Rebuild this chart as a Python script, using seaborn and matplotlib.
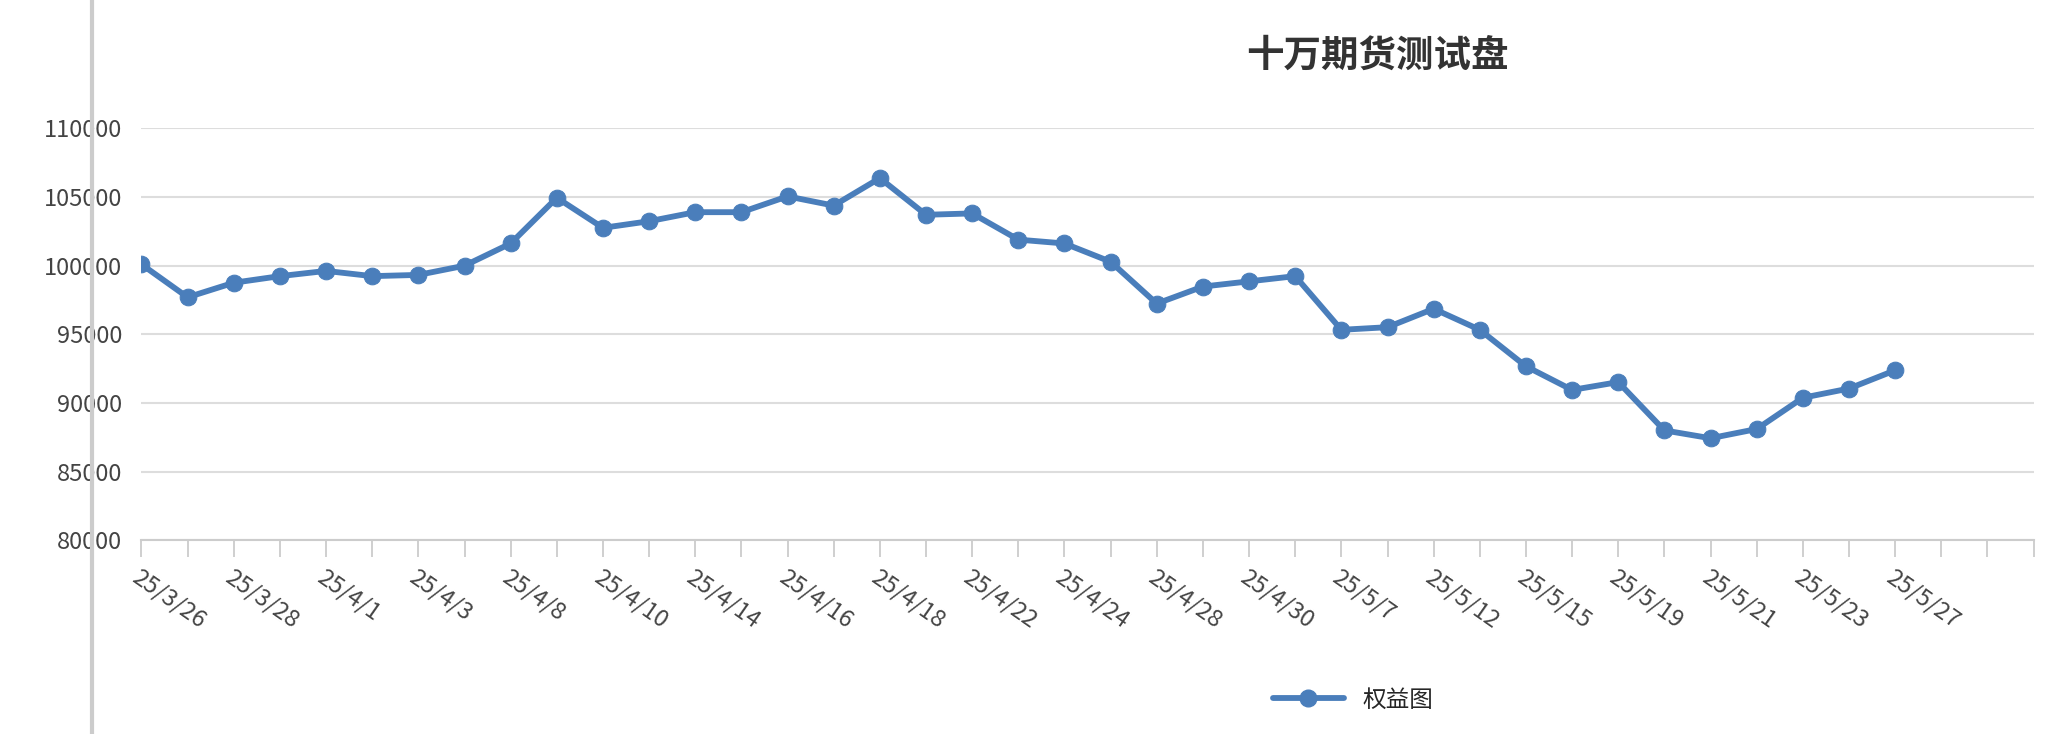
import matplotlib
matplotlib.use("Agg")
import matplotlib.pyplot as plt
import seaborn as sns
import pandas as pd
from matplotlib.lines import Line2D

dates = ["25/3/26","25/3/27","25/3/28","25/3/31","25/4/1","25/4/2","25/4/3","25/4/7","25/4/8","25/4/9",
         "25/4/10","25/4/11","25/4/14","25/4/15","25/4/16","25/4/17","25/4/18","25/4/21","25/4/22","25/4/23",
         "25/4/24","25/4/25","25/4/28","25/4/29","25/4/30","25/5/6","25/5/7","25/5/8","25/5/12","25/5/13",
         "25/5/15","25/5/16","25/5/19","25/5/20","25/5/21","25/5/22","25/5/23","25/5/26","25/5/27"]
equity = [100100,97700,98760,99240,99620,99240,99330,100000,101620,104950,
          102760,103240,103900,103900,105050,104380,106380,103710,103810,101900,
          101620,100290,97240,98480,98860,99240,95330,95520,96860,95330,
          92670,90950,91520,88000,87430,88100,90380,91050,92380]
extra_slots = 3

sns.set_theme(style="white")
plt.rcParams['font.family'] = ['Noto Sans CJK SC', 'DejaVu Sans']

color = "#4a7ebb"
fig = plt.figure(figsize=(20.5, 7.34), dpi=100)
ax = fig.add_axes([0.069, 0.264, 0.923, 0.561])
df = pd.DataFrame({"idx": range(len(equity)), "v": equity})
sns.lineplot(data=df, x="idx", y="v", ax=ax, color=color, lw=4.2, marker="o",
             markersize=12, markeredgecolor=color, legend=False)

n = len(dates) + extra_slots
ax.set_xlim(0, n - 1)
ax.set_ylim(80000, 110000)
ax.set_yticks(range(80000, 110001, 5000))
ax.set_yticklabels([str(v) for v in range(80000, 110001, 5000)], fontsize=17, color="#444444")
ax.set_xticks(range(n))
labels = [d if i % 2 == 0 else "" for i, d in enumerate(dates)] + [""] * extra_slots
ax.set_xticklabels(labels, rotation=-35, ha="left", rotation_mode="anchor", fontsize=17, color="#444444")
ax.tick_params(axis="x", bottom=True, direction="out", length=12, width=1.3, color="#cccccc", pad=6)
ax.tick_params(axis="y", left=False, length=0, pad=14)
ax.grid(axis="y", color="#dddddd", lw=1.5)
for s in ["left", "right", "top"]:
    ax.spines[s].set_visible(False)
ax.spines["bottom"].set_color("#cccccc")
ax.spines["bottom"].set_linewidth(1.5)
ax.set_xlabel("")
ax.set_ylabel("")

fig.text(0.672, 0.925, "十万期货测试盘", ha="center", va="center", fontsize=27, fontweight="bold", color="#333333")
fig.add_artist(Line2D([0.045, 0.045], [0, 1], transform=fig.transFigure, color="#cccccc", lw=3))
handle = Line2D([], [], color=color, lw=4.2, marker="o", markersize=12)
fig.legend([handle], ["权益图"], loc="center", bbox_to_anchor=(0.66, 0.046), frameon=False,
           fontsize=17, handlelength=3)

fig.savefig("out.png", dpi=100)
